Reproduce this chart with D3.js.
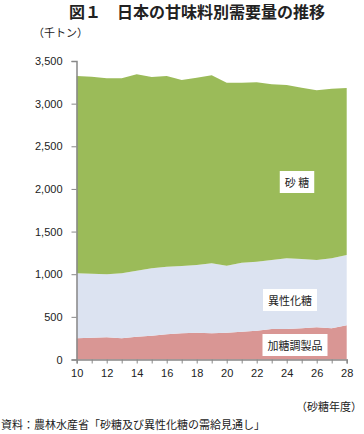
<!DOCTYPE html>
<html>
<head>
<meta charset="utf-8">
<script src="https://cdn.jsdelivr.net/npm/d3@7"></script>
<style>
  body { margin: 0; background: #fff; }
  text { font-family: "Liberation Sans", "Noto Sans CJK JP", sans-serif; fill: #222; }
  .jp { font-family: "Noto Sans CJK JP", sans-serif; }
</style>
</head>
<body>
<svg id="chart" width="364" height="434"></svg>
<script>
// 砂糖年度（平成）
const years = [10,11,12,13,14,15,16,17,18,19,20,21,22,23,24,25,26,27,28];
// 千トン
const katou = [249,256,260,249,268,279,295,307,315,307,315,326,338,358,358,366,378,366,401];
const iseika = [762,750,739,762,773,790,793,789,793,821,785,809,809,809,829,812,789,821,824];
const satou = [2313,2310,2298,2286,2303,2243,2236,2181,2196,2205,2146,2111,2103,2060,2032,2009,1989,1988,1958];
const seriesNames = ["加糖調製品","異性化糖","砂糖"];
const yTicks = [0,500,1000,1500,2000,2500,3000,3500];
const xLabels = [10,12,14,16,18,20,22,24,26,28];

const svg = d3.select("#chart");
const colors = ["#d99694","#dce3f1","#9bbb59"];

const x = d3.scaleLinear().domain([10,28]).range([76.7,346.7]);
const y = d3.scaleLinear().domain([0,3500]).range([359.5,61]);

const rows = years.map(function(yr,i) {
  return {year: yr, "加糖調製品": katou[i], "異性化糖": iseika[i], "砂糖": satou[i]};
});
const stacked = d3.stack().keys(seriesNames)(rows);

const area = d3.area()
  .x(function(d) { return x(d.data.year); })
  .y0(function(d) { return y(d[0]); })
  .y1(function(d) { return y(d[1]); });

svg.append("g")
  .selectAll("path")
  .data(stacked)
  .enter()
  .append("path")
  .attr("fill",function(d,i) { return colors[i]; })
  .attr("d",area);

// y axis
const yAxis = svg.append("g")
  .attr("transform","translate(76.5,0)")
  .call(d3.axisLeft(y).tickValues(yTicks).tickSize(5).tickPadding(9).tickFormat(d3.format(",")));
yAxis.select(".domain").attr("stroke","#888").attr("stroke-width",1.5);
yAxis.selectAll(".tick line").attr("stroke","#888");
yAxis.selectAll("text").attr("font-size",11).attr("fill","#222");

// x axis
const xAxis = svg.append("g")
  .attr("transform","translate(0,359.5)")
  .call(d3.axisBottom(x).tickValues(years).tickSize(4).tickPadding(6)
    .tickFormat(function(d) { return xLabels.indexOf(d) >= 0 ? d : ""; }));
xAxis.select(".domain").attr("stroke","#888").attr("stroke-width",1.5);
xAxis.selectAll(".tick line").attr("stroke","#888");
xAxis.selectAll("text").attr("font-size",11).attr("fill","#222");

// series labels in white boxes
const labels = [
  {text:"砂 糖", cx:297, cy:182},
  {text:"異性化糖", cx:290, cy:300},
  {text:"加糖調製品", cx:295, cy:345}
];
labels.forEach(function(l) {
  const g = svg.append("g");
  const t = g.append("text")
    .attr("class","jp")
    .attr("x",l.cx).attr("y",l.cy)
    .attr("text-anchor","middle")
    .attr("dominant-baseline","central")
    .attr("font-size",11)
    .text(l.text);
  const bb = t.node().getBBox();
  g.insert("rect","text")
    .attr("x",bb.x-5).attr("y",bb.y-3)
    .attr("width",bb.width+10).attr("height",bb.height+6)
    .attr("fill","#fff");
});

svg.append("text")
  .attr("class","jp")
  .attr("x",197).attr("y",18)
  .attr("text-anchor","middle")
  .attr("font-size",16)
  .attr("font-weight","bold")
  .text("図１　日本の甘味料別需要量の推移");

svg.append("text")
  .attr("class","jp")
  .attr("x",33).attr("y",37)
  .attr("font-size",11)
  .text("（千トン）");

svg.append("text")
  .attr("class","jp")
  .attr("x",362).attr("y",411)
  .attr("text-anchor","end")
  .attr("font-size",11)
  .text("（砂糖年度）");

svg.append("text")
  .attr("class","jp")
  .attr("x",1).attr("y",429)
  .attr("font-size",11)
  .text("資料：農林水産省「砂糖及び異性化糖の需給見通し」");
</script>
</body>
</html>
